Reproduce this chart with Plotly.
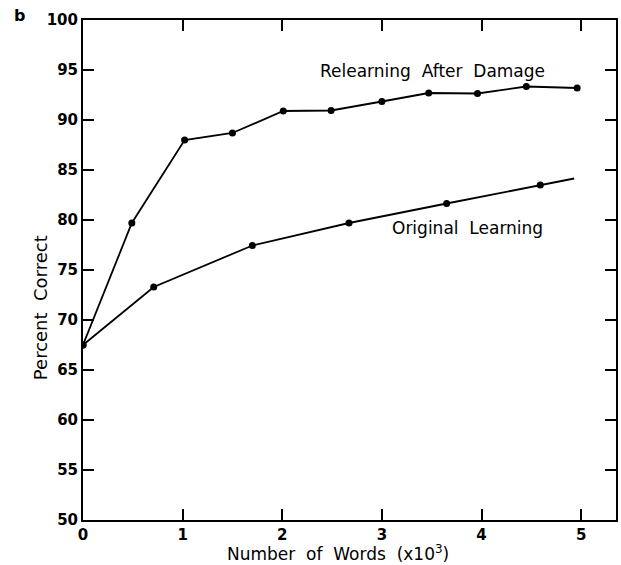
import plotly.graph_objects as go

# Data
relearn_x = [0.0, 0.49, 1.02, 1.50, 2.01, 2.49, 3.00, 3.47, 3.96, 4.45, 4.96]
relearn_y = [67.5, 79.7, 88.0, 88.7, 90.9, 90.95, 91.85, 92.7, 92.65, 93.35, 93.2]

orig_x = [0.0, 0.71, 1.70, 2.67, 3.65, 4.59, 4.93]
orig_y = [67.5, 73.3, 77.45, 79.7, 81.65, 83.5, 84.15]
orig_marked = 6  # last point of the line carries no marker

x_ticks = [0, 1, 2, 3, 4, 5]
y_ticks = [50, 55, 60, 65, 70, 75, 80, 85, 90, 95, 100]

FONT = "DejaVu Sans"
SP = "&nbsp;"

fig = go.Figure()
fig.add_trace(go.Scatter(x=relearn_x, y=relearn_y, mode="lines+markers",
                         line=dict(color="black", width=1.8),
                         marker=dict(color="black", size=7), showlegend=False))
fig.add_trace(go.Scatter(x=orig_x, y=orig_y, mode="lines",
                         line=dict(color="black", width=1.8), showlegend=False))
fig.add_trace(go.Scatter(x=orig_x[:orig_marked], y=orig_y[:orig_marked], mode="markers",
                         marker=dict(color="black", size=7), showlegend=False))

axis_common = dict(showgrid=False, zeroline=False, showline=True, linecolor="black",
                   linewidth=2, ticks="inside", ticklen=11, tickwidth=2, tickcolor="black",
                   mirror="ticks",
                   tickfont=dict(family=FONT, size=15, color="black", weight="bold"))

fig.update_xaxes(range=[0, 5.35], tickvals=x_ticks, ticktext=[str(v) for v in x_ticks],
                 **axis_common)
fig.update_yaxes(range=[50, 100], tickvals=y_ticks, ticktext=[str(v) for v in y_ticks],
                 **axis_common)

fig.add_annotation(x=2.36, y=94.93, text=f"Relearning{SP} After{SP} Damage", showarrow=False,
                   xanchor="left", yanchor="middle",
                   font=dict(family=FONT, size=17, color="black"))
fig.add_annotation(x=3.08, y=79.17, text=f"Original{SP} Learning", showarrow=False,
                   xanchor="left", yanchor="middle",
                   font=dict(family=FONT, size=17, color="black"))
fig.add_annotation(xref="paper", yref="paper", x=-0.0804, y=0.424,
                   text=f"Percent{SP} Correct",
                   textangle=-90, showarrow=False, xanchor="center", yanchor="middle",
                   font=dict(family=FONT, size=18, color="black"))
fig.add_annotation(xref="x", yref="paper", x=2.56, y=-0.066,
                   text=f"Number{SP} of{SP} Words{SP} (x10<sup>3</sup>)", showarrow=False,
                   xanchor="center", yanchor="middle",
                   font=dict(family=FONT, size=17, color="black"))
fig.add_annotation(xref="paper", yref="paper", x=-0.12, y=1.008, text="b",
                   showarrow=False, xanchor="center", yanchor="middle",
                   font=dict(family=FONT, size=16, color="black", weight="bold"))

fig.update_layout(width=621, height=565, margin=dict(l=83, r=3, t=20, b=45),
                  plot_bgcolor="white", paper_bgcolor="white")

fig.write_html("out.html", config={"displayModeBar": False},
               post_script="document.body.style.margin='0';document.body.style.overflow='hidden';")
